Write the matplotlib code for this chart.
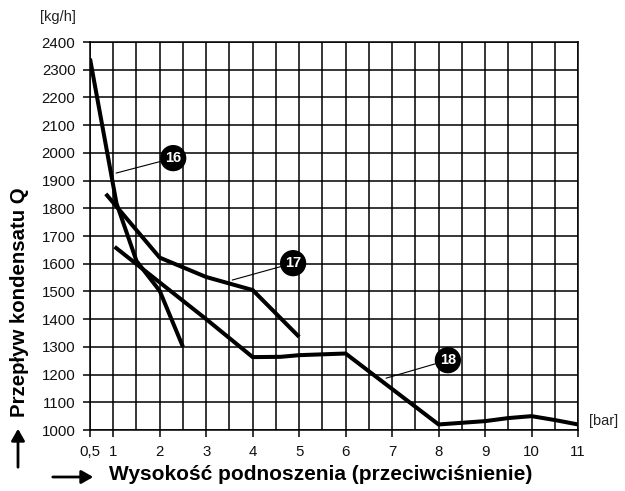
import matplotlib
matplotlib.use("Agg")
import matplotlib.pyplot as plt

plt.rcParams['font.family'] = ['Liberation Sans', 'DejaVu Sans']

# Data
c16_x = [0.5, 1.07, 1.5, 2.0, 2.5]
c16_y = [2340, 1818, 1610, 1502, 1300]

c17_x = [0.84, 2.0, 3.0, 4.0, 5.0]
c17_y = [1852, 1622, 1552, 1505, 1336]

c18_x = [1.03, 3.0, 4.0, 4.6, 5.0, 6.0, 8.0, 9.0, 9.5, 10.0, 10.5, 11.0]
c18_y = [1661, 1400, 1263, 1264, 1270, 1276, 1020, 1032, 1043, 1050, 1036, 1020]

x_ticks = [0.5, 1, 2, 3, 4, 5, 6, 7, 8, 9, 10, 11]
x_ticklabels = ['0,5', '1', '2', '3', '4', '5', '6', '7', '8', '9', '10', '11']
x_minor = [1.5, 2.5, 3.5, 4.5, 5.5, 6.5, 7.5, 8.5, 9.5, 10.5]
y_ticks = list(range(1000, 2401, 100))

labels = ['16', '17', '18']
label_pos = [(2.29, 1981), (4.87, 1602), (8.20, 1252)]
leader_start = [(1.06, 1927), (3.56, 1541), (6.87, 1187)]

fig = plt.figure(figsize=(6.25, 4.91), dpi=100)
ax = fig.add_axes([90/625, 1 - 430/491, (578 - 90)/625, (430 - 42)/491])

ax.set_xlim(0.5, 11)
ax.set_ylim(1000, 2400)
ax.set_xticks(x_ticks)
ax.set_xticklabels(x_ticklabels)
ax.set_xticks(x_minor, minor=True)
ax.set_yticks(y_ticks)

ax.grid(True, which='both', color='black', linewidth=1.1)
ax.set_axisbelow(True)
for s in ax.spines.values():
    s.set_color('black')
    s.set_linewidth(1.1)

ax.tick_params(axis='both', which='major', direction='out', length=5, width=1.1,
               color='black', labelsize=10.8, labelcolor='#111111', pad=5.5)
ax.tick_params(axis='x', which='minor', length=0)

lw = 2.9
for xs, ys in [(c16_x, c16_y), (c17_x, c17_y), (c18_x, c18_y)]:
    ax.plot(xs, ys, color='black', linewidth=lw, solid_joinstyle='miter',
            solid_capstyle='butt', zorder=3)

for lab, pos, st in zip(labels, label_pos, leader_start):
    ax.annotate(lab, xy=st, xytext=pos, ha='center', va='center',
                color='white', fontsize=10.5, fontweight='bold',
                bbox=dict(boxstyle='circle,pad=0.3', fc='black', ec='black'),
                arrowprops=dict(arrowstyle='-', color='black', lw=0.8,
                                shrinkA=0, shrinkB=0),
                zorder=5)

fig.text(58/625, 1 - 17/491, '[kg/h]', ha='center', va='center', fontsize=10.5,
         color='#222222')
fig.text(604/625, 1 - 421/491, '[bar]', ha='center', va='center', fontsize=10.5,
         color='#222222')

fig.text(321/625, 1 - 475/491, 'Wysokość podnoszenia (przeciwciśnienie)',
         ha='center', va='center', fontsize=15, fontweight='bold')
fig.text(20/625, 1 - 302/491, 'Przepływ kondensatu Q', rotation=90,
         ha='center', va='center', fontsize=14.7, fontweight='bold')

# arrows
fig.patches.append(matplotlib.patches.FancyArrowPatch(
    (50/625, 1 - 477/491), (96/625, 1 - 477/491), transform=fig.transFigure,
    arrowstyle='-|>,head_length=7,head_width=4', color='black', lw=2,
    mutation_scale=1))
fig.patches.append(matplotlib.patches.FancyArrowPatch(
    (18/625, 1 - 470/491), (18/625, 1 - 426/491), transform=fig.transFigure,
    arrowstyle='-|>,head_length=7,head_width=4', color='black', lw=2,
    mutation_scale=1))

fig.savefig('out.png', dpi=100)
